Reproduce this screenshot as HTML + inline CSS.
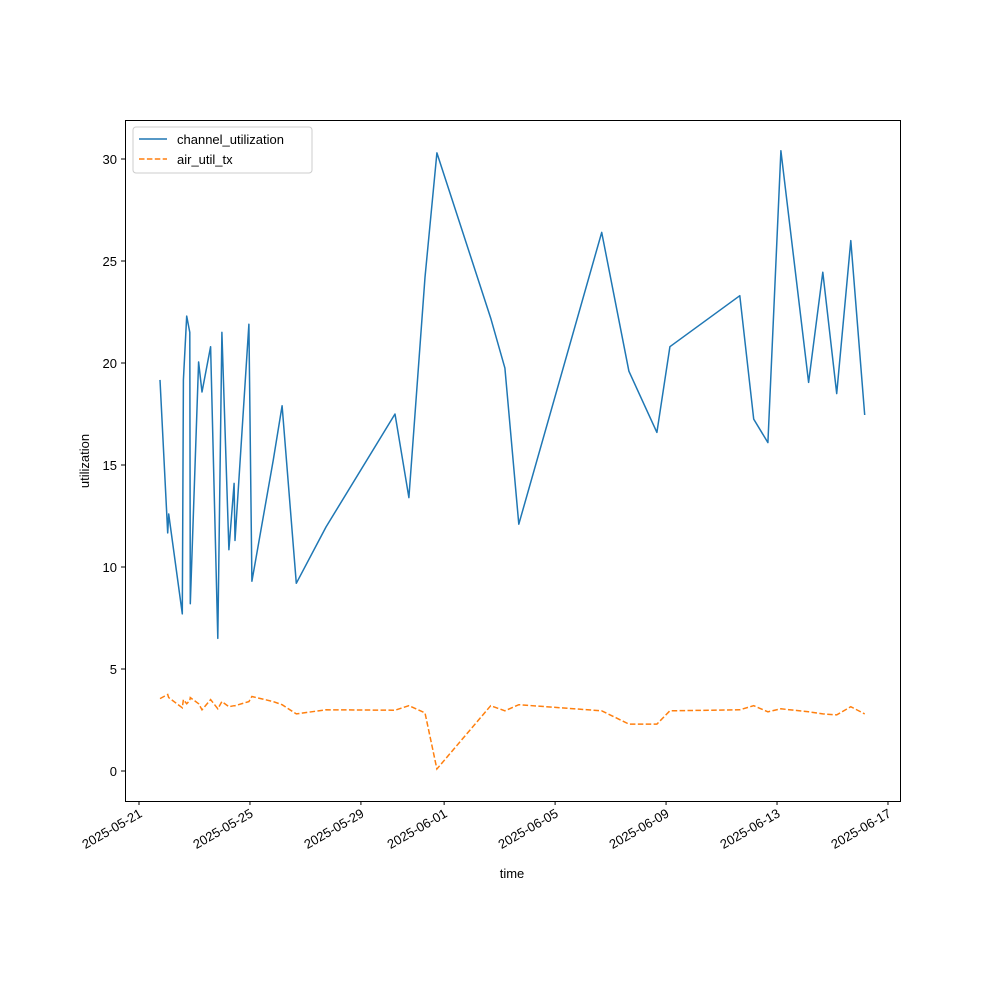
<!DOCTYPE html>
<html><head><meta charset="utf-8"><style>
body{margin:0;background:#fff}
svg text{font-family:"Liberation Sans","DejaVu Sans",sans-serif;font-size:13px;fill:#000}
</style></head><body>
<svg id="chart" width="1000" height="1000">
<rect x="0" y="0" width="1000" height="1000" fill="#fff"/>
<g id="axes"></g>
<g id="series"></g>
<rect x="125.5" y="120.5" width="775" height="681" fill="none" stroke="#000" stroke-width="1"/>
<g>
<rect x="133" y="127" width="179" height="46" rx="3" fill="#fff" fill-opacity="0.8" stroke="#ccc"/>
<line x1="139" y1="139" x2="167" y2="139" stroke="#1f77b4" stroke-width="1.5"/>
<text x="177" y="144">channel_utilization</text>
<line x1="139" y1="159" x2="167" y2="159" stroke="#ff7f0e" stroke-width="1.5" stroke-dasharray="5.5,2.4"/>
<text x="177" y="164">air_util_tx</text>
</g>
<text x="512" y="878" text-anchor="middle">time</text>
<text transform="translate(89,461) rotate(-90)" text-anchor="middle">utilization</text>
</svg>
<script>
const dayOffsets=[0.757,1.034,1.07,1.56,1.60,1.72,1.83,1.85,2.15,2.27,2.58,2.84,2.99,3.24,3.43,3.46,3.96,4.07,4.84,5.16,5.67,6.74,9.23,9.73,10.31,10.74,12.68,13.19,13.69,16.68,17.66,18.67,19.14,21.66,22.16,22.67,23.14,24.14,24.65,25.15,25.66,26.16];
const channelUtil=[19.17,11.67,12.6,7.7,19.17,22.3,21.5,8.2,20.05,18.58,20.8,6.5,21.5,10.85,14.1,11.3,21.9,9.3,15.25,17.9,9.2,11.96,17.5,13.4,24.2,30.3,22.2,19.75,12.1,26.4,19.6,16.6,20.8,23.3,17.25,16.1,30.4,19.05,24.45,18.5,26.0,17.45];
const airUtilTx=[3.55,3.75,3.6,3.1,3.5,3.3,3.45,3.6,3.3,3.0,3.5,3.05,3.4,3.15,3.2,3.2,3.4,3.65,3.4,3.25,2.8,3.0,2.98,3.2,2.85,0.1,3.2,2.95,3.25,2.95,2.3,2.3,2.95,3.0,3.2,2.9,3.05,2.9,2.8,2.75,3.15,2.8];
const yTicks=[0,5,10,15,20,25,30];
const xTickLabels=["2025-05-21","2025-05-25","2025-05-29","2025-06-01","2025-06-05","2025-06-09","2025-06-13","2025-06-17"];
const xTickDays=[0,4,8,11,15,19,23,27];
const NS="http://www.w3.org/2000/svg";
function xs(d){return 139+d*27.74;}
function ys(v){return 771-v*20.4;}
const axes=document.getElementById('axes'),series=document.getElementById('series');
function mk(tag,attrs,parent){const e=document.createElementNS(NS,tag);for(const k in attrs)e.setAttribute(k,attrs[k]);parent.appendChild(e);return e;}
yTicks.forEach(v=>{const y=ys(v);
const t=mk('line',{x1:121,x2:125,y1:y,y2:y,stroke:'#000'},axes);


const l=mk('text',{x:117,y:y+5,'text-anchor':'end'},axes);l.textContent=v;

});
xTickDays.forEach((d,i)=>{const x=xs(d);
const t=mk('line',{x1:x,x2:x,y1:801,y2:805,stroke:'#000'},axes);


const l=mk('text',{transform:`translate(${x+4},${816}) rotate(-30)`,'text-anchor':'end'},axes);l.textContent=xTickLabels[i];

});
function path(vals){return vals.map((v,i)=>(i?'L':'M')+xs(dayOffsets[i]).toFixed(1)+','+ys(v).toFixed(1)).join('');}
const p1=mk('path',{d:path(channelUtil),fill:'none',stroke:'#1f77b4','stroke-width':1.5,'stroke-linejoin':'round'},series);


const p2=mk('path',{d:path(airUtilTx),fill:'none',stroke:'#ff7f0e','stroke-width':1.5,'stroke-dasharray':'5.5,2.4'},series);


</script>
</body></html>
